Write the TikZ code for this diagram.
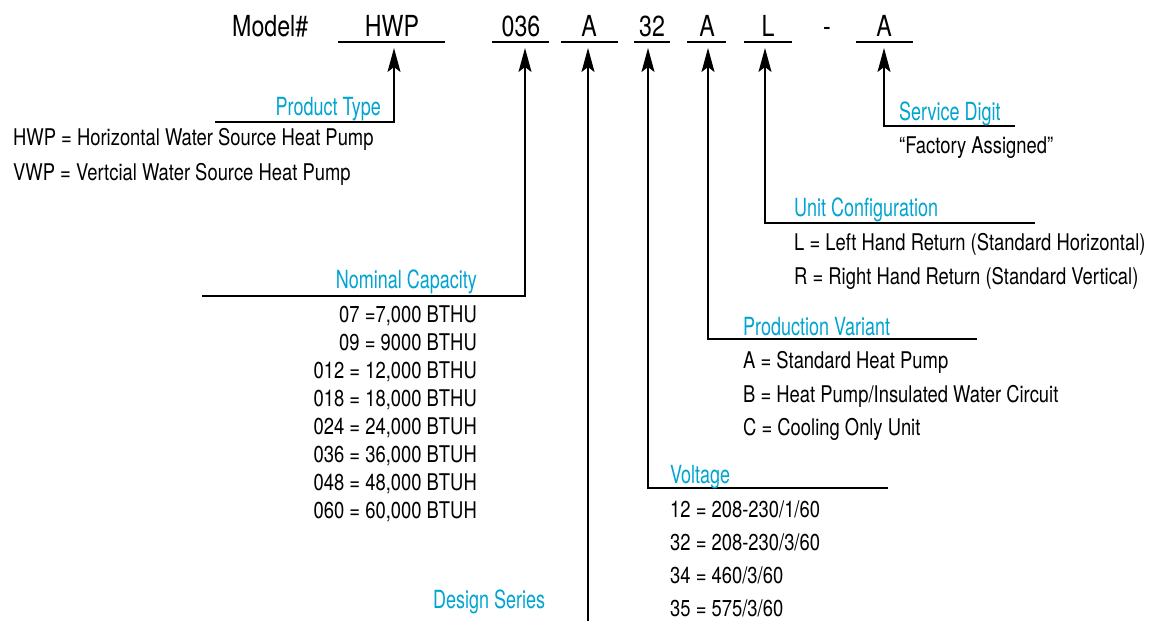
\documentclass[tikz,border=0pt]{standalone}
\usepackage{fontspec}
\setmainfont{TeX Gyre Heros}[FakeStretch=0.8]
\newfontfamily\hdfont{TeX Gyre Heros}[FakeStretch=0.72]
\usetikzlibrary{arrows.meta}
\definecolor{hdcyan}{RGB}{0,164,208}
\begin{document}
\begin{tikzpicture}[x=1pt,y=-1pt,
  top/.style={font=\fontsize{29}{32}\selectfont, inner sep=0pt, anchor=base},
  hd/.style={font=\hdfont\fontsize{25}{28}\selectfont, text=hdcyan, inner sep=0pt},
  desc/.style={font=\fontsize{23}{26}\selectfont, inner sep=0pt, anchor=base west},
  descr/.style={font=\fontsize{23}{26}\selectfont, inner sep=0pt, anchor=base east},
  uline/.style={line width=2.2pt},
  conn/.style={line width=1.6pt},
  arr/.style={conn, -{Stealth[length=24pt,width=13pt,inset=5pt]}}]
\useasboundingbox (0,0) rectangle (1149,621);

% top row
\node[top, anchor=base west] (model) at (232,36) {Model\#};
\node[top] (hwp) at (392,36) {HWP};
\node[top] (cap) at (521,36) {036};
\node[top] (ser) at (589,36) {A};
\node[top] (vol) at (652,36) {32};
\node[top] (var) at (707,36) {A};
\node[top] (cfg) at (768,36) {L};
\node[top] (dash) at (827,36) {-};
\node[top] (svc) at (884,36) {A};

\draw[uline] (338,42) -- (445,42);
\draw[uline] (492,42) -- (549,42);
\draw[uline] (561,42) -- (618,42);
\draw[uline] (634,42) -- (670,42);
\draw[uline] (687,42) -- (726,42);
\draw[uline] (744,42) -- (792,42);
\draw[uline] (856,42) -- (913,42);

% arrow tips
\coordinate (tHWP) at (394,48);
\coordinate (tCap) at (525,48);
\coordinate (tSer) at (588,48);
\coordinate (tVol) at (648,48);
\coordinate (tVar) at (708,48);
\coordinate (tCfg) at (765,48);
\coordinate (tSvc) at (884,48);

% corners
\coordinate (ptL) at (215,122);
\coordinate (ptC) at (394,122);
\coordinate (ncL) at (202,296);
\coordinate (ncC) at (525,296);
\coordinate (dsB) at (588,621);
\coordinate (voC) at (648,488);
\coordinate (voR) at (888,488);
\coordinate (pvC) at (708,339);
\coordinate (pvR) at (977,339);
\coordinate (ucC) at (765,223);
\coordinate (ucR) at (1035,223);
\coordinate (sdC) at (884,126);
\coordinate (sdR) at (1015,126);

\draw[arr] (ptL) -- (ptC) -- (tHWP);
\draw[arr] (ncL) -- (ncC) -- (tCap);
\draw[arr] (dsB) -- (tSer);
\draw[arr] (voR) -- (voC) -- (tVol);
\draw[arr] (pvR) -- (pvC) -- (tVar);
\draw[arr] (ucR) -- (ucC) -- (tCfg);
\draw[arr] (sdR) -- (sdC) -- (tSvc);

% Product Type
\node[hd, anchor=base east] (hPT) at (381,115) {Product Type};
\node[desc] (pt1) at (13,145) {HWP = Horizontal Water Source Heat Pump};
\node[desc] (pt2) at (13,180) {VWP = Vertcial Water Source Heat Pump};

% Nominal Capacity
\node[hd, anchor=base east] (hNC) at (477,288) {Nominal Capacity};
\foreach \t [count=\i] in {{07 =7,000 BTHU},{09 = 9000 BTHU},{012 = 12,000 BTHU},{018 = 18,000 BTHU},{024 = 24,000 BTUH},{036 = 36,000 BTUH},{048 = 48,000 BTUH},{060 = 60,000 BTUH}}
  \node[descr] (nc\i) at (477,294+28*\i) {\t};

% Design Series
\node[hd, anchor=base west] (hDS) at (433,608) {Design Series};

% Voltage
\node[hd, anchor=base west] (hVO) at (670,483) {Voltage};
\foreach \t [count=\i] in {{12 = 208-230/1/60},{32 = 208-230/3/60},{34 = 460/3/60},{35 = 575/3/60}}
  \node[desc] (vo\i) at (670,484+33*\i) {\t};

% Production Variant
\node[hd, anchor=base west] (hPV) at (743,335) {Production Variant};
\node[desc] (pv1) at (743,368) {A = Standard Heat Pump};
\node[desc] (pv2) at (743,402) {B = Heat Pump/Insulated Water Circuit};
\node[desc] (pv3) at (743,435) {C = Cooling Only Unit};

% Unit Configuration
\node[hd, anchor=base west] (hUC) at (794,216) {Unit Configuration};
\node[desc] (uc1) at (794,250) {L = Left Hand Return (Standard Horizontal)};
\node[desc] (uc2) at (794,284) {R = Right Hand Return (Standard Vertical)};

% Service Digit
\node[hd, anchor=base west] (hSD) at (899,120) {Service Digit};
\node[desc] (sd1) at (899,153) {“Factory Assigned”};
\end{tikzpicture}
\end{document}
